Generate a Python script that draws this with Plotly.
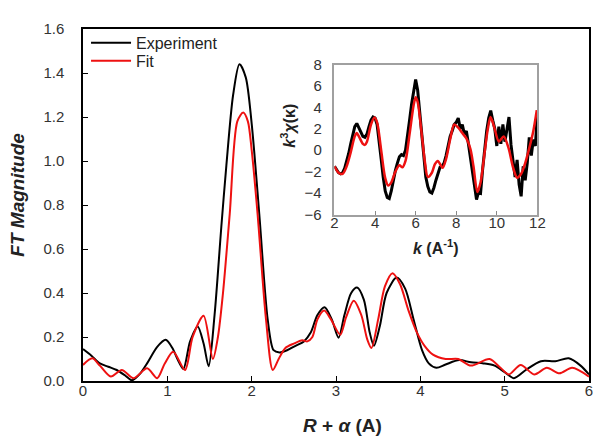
import plotly.graph_objects as go

# ---- main panel: FT magnitude vs R + alpha ----
r_exp = [0, 0.1, 0.2, 0.3, 0.4, 0.5, 0.58, 0.68, 0.76, 0.88, 0.98, 1.06, 1.12, 1.19, 1.27, 1.36,
         1.43, 1.49, 1.56, 1.64, 1.7, 1.78, 1.855, 1.93, 2.0, 2.09, 2.19, 2.26, 2.33, 2.42, 2.52,
         2.62, 2.7, 2.78, 2.865, 2.95, 3.03, 3.1, 3.18, 3.25, 3.33, 3.4, 3.45, 3.52, 3.6, 3.72,
         3.82, 3.92, 4.02, 4.1, 4.19, 4.3, 4.46, 4.6, 4.75, 4.88, 5.0, 5.11, 5.25, 5.43, 5.6,
         5.76, 5.9, 6.0]
ft_exp = [0.145, 0.115, 0.08, 0.065, 0.05, 0.025, 0.003, 0.035, 0.08, 0.155, 0.187, 0.15, 0.1,
          0.055, 0.18, 0.248, 0.17, 0.067, 0.3, 0.7, 0.98, 1.3, 1.44, 1.38, 1.17, 0.76, 0.28,
          0.14, 0.13, 0.14, 0.16, 0.18, 0.22, 0.3, 0.335, 0.28, 0.197, 0.3, 0.4, 0.425, 0.37,
          0.22, 0.16, 0.25, 0.4, 0.47, 0.42, 0.28, 0.14, 0.08, 0.06, 0.075, 0.095, 0.085, 0.08,
          0.07, 0.04, 0.013, 0.05, 0.09, 0.09, 0.103, 0.07, 0.03]

r_fit = [0, 0.11, 0.2, 0.33, 0.46, 0.6, 0.76, 0.88, 0.97, 1.07, 1.21, 1.3, 1.43, 1.54, 1.6,
         1.66, 1.74, 1.83, 1.9, 1.955, 2.0, 2.07, 2.17, 2.25, 2.32, 2.4, 2.5, 2.6, 2.66, 2.72,
         2.78, 2.86, 2.94, 3.05, 3.12, 3.21, 3.3, 3.37, 3.42, 3.5, 3.58, 3.67, 3.76, 3.86, 3.96,
         4.05, 4.15, 4.3, 4.45, 4.6, 4.82, 4.95, 5.05, 5.19, 5.35, 5.5, 5.65, 5.8, 6.0]
ft_fit = [0.073, 0.103, 0.07, 0.02, 0.05, 0.013, 0.058, 0.013, 0.08, 0.133, 0.05, 0.2, 0.297,
          0.1, 0.2, 0.4, 0.76, 1.18, 1.22, 1.18, 1.05, 0.76, 0.28, 0.05, 0.1, 0.15, 0.17, 0.185,
          0.18, 0.2, 0.28, 0.32, 0.28, 0.21, 0.29, 0.365, 0.3, 0.19, 0.15, 0.28, 0.43, 0.49,
          0.44, 0.32, 0.22, 0.16, 0.12, 0.1, 0.1, 0.07, 0.1, 0.06, 0.03, 0.073, 0.03, 0.06,
          0.035, 0.06, 0.02]

# ---- inset: k^3 chi(k) ----
k_exp = [round(2 + 0.1 * i, 1) for i in range(101)]
chi_exp = [-1.5, -1.8, -2.1, -2.2, -2.1, -1.7, -1.1, -0.3, 0.6, 1.5,
           2.2, 2.5, 2.1, 1.6, 1.3, 1.2, 1.5, 2.2, 2.8, 3.1,
           3.0, 2.4, 1.0, -0.8, -2.5, -3.8, -4.4, -4.5, -3.8, -2.8,
           -1.9, -1.2, -0.6, -0.4, -0.5, 0.0, 1.2, 2.8, 4.3, 5.6,
           6.6, 5.6, 3.6, 1.4, -0.8, -2.5, -3.4, -3.9, -4.0, -3.5,
           -2.8, -2.1, -1.6, -1.5, -1.2, -0.5, 0.6, 1.3, 1.8, 2.4,
           2.6, 3.0, 2.0, 2.4, 1.5, 1.8, 0.6, -0.7, -1.8, -3.2,
           -4.6, -3.9, -4.0, -1.8, 0.2, 1.8, 3.0, 3.7, 2.8, 2.0,
           0.4, 2.2, 0.6, 2.4, 0.8, 1.8, 3.1, 0.5, -0.8, -2.5,
           -0.9, -3.2, -4.3, -1.5, -2.8, -1.2, 1.2, -0.5, 1.0, 0.4,
           3.5]

k_fit = [2.0, 2.2, 2.4, 2.6, 2.8, 3.0, 3.1, 3.2, 3.4, 3.5, 3.6, 3.8, 3.97, 4.1, 4.3, 4.5, 4.65,
         4.8, 5.0, 5.2, 5.35, 5.5, 5.7, 5.9, 6.0, 6.1, 6.3, 6.45, 6.6, 6.8, 6.95, 7.09, 7.33,
         7.5, 7.7, 7.9, 8.1, 8.3, 8.5, 8.7, 8.85, 9.04, 9.2, 9.4, 9.55, 9.69, 9.85, 10.1, 10.34,
         10.58, 10.8, 11.0, 11.2, 11.4, 11.6, 11.8, 11.97]
chi_fit = [-1.5, -2.1, -2.2, -1.5, -0.2, 1.3, 1.6, 1.3, 0.6, 0.5, 0.8, 2.4, 3.05, 2.6, 0.0,
           -2.6, -3.3, -3.0, -2.0, -1.4, -1.6, -1.0, 1.5, 4.2, 4.95, 4.5, 1.5, -1.0, -2.5,
           -2.1, -1.3, -1.0, -1.64, -0.8, 1.0, 2.4, 2.1, 1.6, 1.1, 0.1, -1.5, -3.9, -3.0, -0.2,
           1.9, 3.1, 2.3, 0.82, 1.28, 0.2, -1.6, -2.56, -2.2, -1.2, 0.2, 1.8, 3.74]

FONT = "Liberation Sans, Arial, sans-serif"

fig = go.Figure()
fig.add_trace(go.Scatter(x=r_exp, y=ft_exp, mode="lines", name="Experiment", legend="legend",
                         line=dict(color="black", width=2, shape="spline", smoothing=0.8)))
fig.add_trace(go.Scatter(x=r_fit, y=ft_fit, mode="lines", name="Fit", legend="legend2",
                         line=dict(color="#ee1111", width=2, shape="spline", smoothing=0.8)))
fig.add_trace(go.Scatter(x=k_exp, y=chi_exp, mode="lines", showlegend=False,
                         xaxis="x2", yaxis="y2",
                         line=dict(color="black", width=3)))
fig.add_trace(go.Scatter(x=k_fit, y=chi_fit, mode="lines", showlegend=False,
                         xaxis="x2", yaxis="y2",
                         line=dict(color="#ee1111", width=2.5, shape="spline", smoothing=0.8)))

legend_common = dict(xanchor="left", yanchor="top", bgcolor="rgba(0,0,0,0)",
                     font=dict(family=FONT, size=16, color="#222222"), itemwidth=40)

fig.update_layout(
    width=601, height=446,
    margin=dict(l=75, r=15, t=16, b=73),
    paper_bgcolor="white", plot_bgcolor="white",
    font=dict(family=FONT, size=15, color="#333333"),
    showlegend=True,
    legend=dict(x=0.006, y=1.009, **legend_common),
    legend2=dict(x=0.006, y=0.958, **legend_common),
    xaxis=dict(range=[0, 6], tickvals=[0, 1, 2, 3, 4, 5, 6], ticks="inside", ticklen=5,
               tickcolor="black", showline=True, linecolor="black", linewidth=1.5, mirror=True,
               showgrid=False, zeroline=False, domain=[0, 1], ticklabelstandoff=-5,
               tickfont=dict(family=FONT, size=15, color="#333333")),
    yaxis=dict(range=[0, 1.6], tickvals=[0, 0.2, 0.4, 0.6, 0.8, 1.0, 1.2, 1.4, 1.6],
               tickformat=".1f", ticks="inside", ticklen=5, tickcolor="black",
               showline=True, linecolor="black", linewidth=1.5, mirror=True,
               showgrid=False, zeroline=False, domain=[0, 1], ticklabelstandoff=14,
               tickfont=dict(family=FONT, size=15, color="#333333")),
    xaxis2=dict(range=[2, 12], tickvals=[2, 4, 6, 8, 10, 12], ticks="inside", ticklen=4,
                tickcolor="#888888", showline=True, linecolor="#a0a0a0", linewidth=1.5,
                mirror=True, showgrid=False, zeroline=False, domain=[0.497, 0.898],
                anchor="y2", ticklabelstandoff=-6,
                tickfont=dict(family=FONT, size=15, color="#333333")),
    yaxis2=dict(range=[-6, 8], tickvals=[-6, -4, -2, 0, 2, 4, 6, 8], ticks="",
                showline=True, linecolor="#a0a0a0", linewidth=1.5,
                mirror=True, showgrid=False, zeroline=False, domain=[0.473, 0.899],
                anchor="x2", ticklabelstandoff=8,
                tickfont=dict(family=FONT, size=15, color="#333333")),
)

fig.add_annotation(text="<b><i>R</i> + <i>α</i> (A)</b>", xref="paper", yref="paper",
                   x=0.512, y=-0.125, xanchor="center", yanchor="middle", showarrow=False,
                   font=dict(family=FONT, size=19, color="#222222"))
fig.add_annotation(text="<b><i>FT Magnitude</i></b>", xref="paper", yref="paper",
                   x=-0.13, y=0.53, xanchor="center", yanchor="middle", showarrow=False,
                   textangle=-90,
                   font=dict(family=FONT, size=19, color="#222222"))
fig.add_annotation(text="<b><i>k</i> (A<sup>-1</sup>)</b>", xref="paper", yref="paper",
                   x=0.697, y=0.38, xanchor="center", yanchor="middle", showarrow=False,
                   font=dict(family=FONT, size=16, color="#222222"))
fig.add_annotation(text="<b><i>k</i><sup>3</sup><i>χ</i>(κ)</b>", xref="paper", yref="paper",
                   x=0.405, y=0.725, xanchor="center", yanchor="middle", showarrow=False,
                   textangle=-90,
                   font=dict(family=FONT, size=16, color="#222222"))

fig.write_html("out.html")
